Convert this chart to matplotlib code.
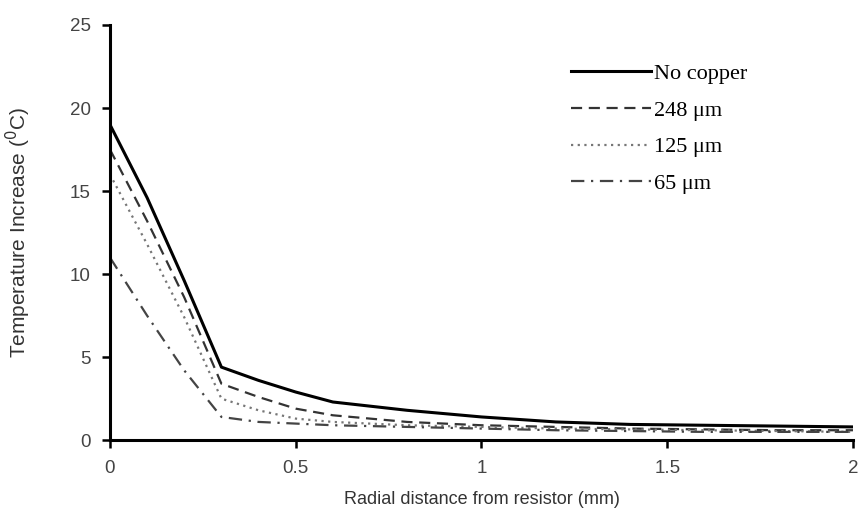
import matplotlib
matplotlib.use('Agg')
import matplotlib.pyplot as plt

# radial distance (mm) and temperature increase (deg C)
radius     = [0, 0.1, 0.2, 0.3, 0.4, 0.5, 0.6, 0.8, 1.0, 1.2, 1.4, 1.6, 1.8, 2.0]
no_copper  = [19.0, 14.6, 9.6, 4.4, 3.6, 2.9, 2.3, 1.8, 1.4, 1.1, 0.95, 0.9, 0.85, 0.8]
cu_248     = [17.5, 13.2, 8.6, 3.4, 2.6, 1.9, 1.5, 1.1, 0.9, 0.8, 0.7, 0.65, 0.6, 0.6]
cu_125     = [16.0, 11.8, 7.4, 2.5, 1.8, 1.3, 1.1, 0.9, 0.8, 0.7, 0.65, 0.6, 0.55, 0.5]
cu_65      = [11.0, 7.5, 4.2, 1.4, 1.1, 1.0, 0.9, 0.8, 0.7, 0.6, 0.55, 0.5, 0.5, 0.5]
labels     = ['No copper', '248 \u03bcm', '125 \u03bcm', '65 \u03bcm']

x_ticks = [0, 0.5, 1, 1.5, 2]
x_tick_labels = ['0', '0.5', '1', '1.5', '2']
y_ticks = [0, 5, 10, 15, 20, 25]

fig = plt.figure(figsize=(8.59, 5.31), dpi=100)
ax = fig.add_axes([0.128, 0.171, 0.865, 0.782])

ax.plot(radius, no_copper, color='black', linewidth=2.2, linestyle='-', label=labels[0])
ax.plot(radius, cu_248, color='#333333', linewidth=1.6, linestyle=(0, (5, 3)), label=labels[1])
ax.plot(radius, cu_125, color='#777777', linewidth=1.6, linestyle=(0, (1, 2)), label=labels[2])
ax.plot(radius, cu_65, color='#444444', linewidth=1.6, linestyle=(0, (6, 3, 1, 3)), label=labels[3])

ax.set_xlim(0, 2)
ax.set_ylim(0, 25)
ax.set_xticks(x_ticks)
ax.set_xticklabels(x_tick_labels)
ax.set_yticks(y_ticks)

for side in ['top', 'right']:
    ax.spines[side].set_visible(False)
for side in ['left', 'bottom']:
    ax.spines[side].set_linewidth(2.2)
    ax.spines[side].set_color('black')

ax.tick_params(direction='out', length=6, width=1.8, colors='black',
               labelcolor='#444444', labelsize=13.5, pad=8)
for lab in ax.get_xticklabels() + ax.get_yticklabels():
    lab.set_fontfamily('Liberation Sans')

ax.set_xlabel('Radial distance from resistor (mm)', fontsize=13, color='#333333',
              fontfamily='Liberation Sans', labelpad=10)
ax.set_ylabel('Temperature Increase ($^{0}$C)', fontsize=15, color='#333333',
              fontfamily='Liberation Sans', labelpad=26)

leg = ax.legend(loc='upper left', bbox_to_anchor=(0.593, 0.955), frameon=False,
                handlelength=3.6, handletextpad=0.15, labelspacing=0.72,
                prop={'family': 'Liberation Serif', 'size': 16})

plt.savefig('out.png', dpi=100, facecolor='white')
plt.close()
